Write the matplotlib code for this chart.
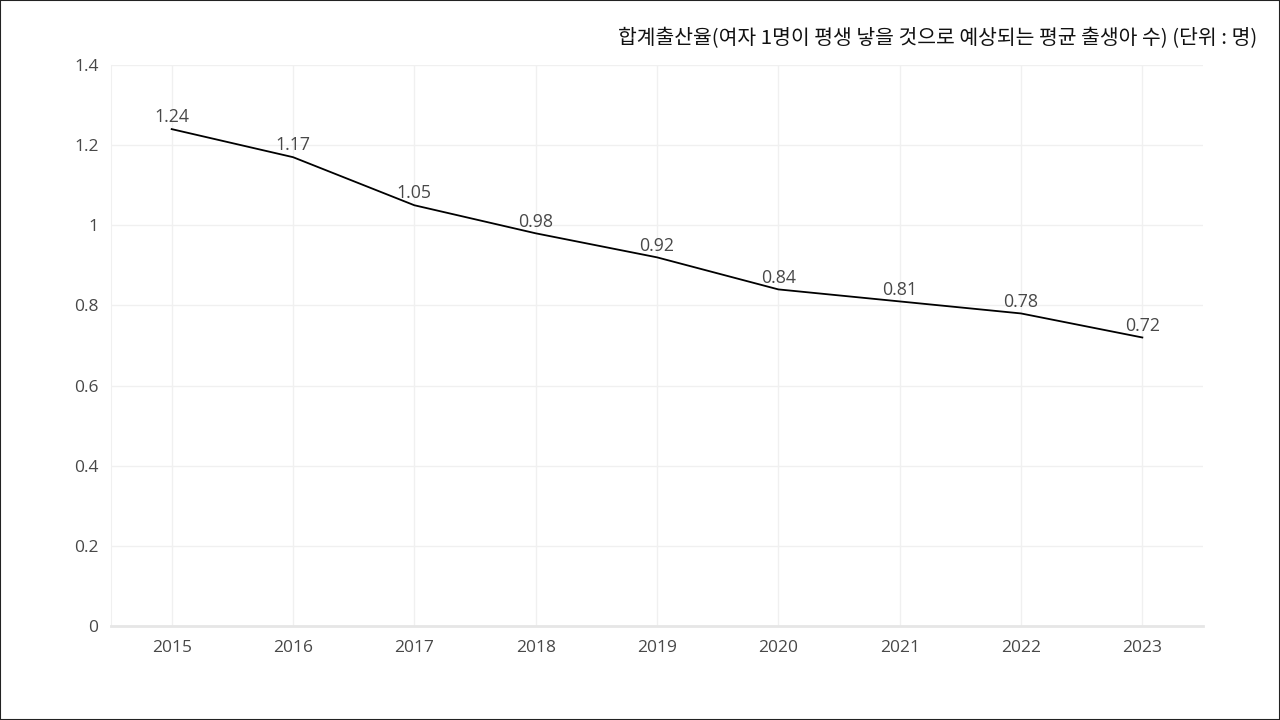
import matplotlib
matplotlib.use("Agg")
import matplotlib.pyplot as plt

plt.rcParams['font.family'] = ['Noto Sans CJK KR', 'DejaVu Sans']

years = ['2015', '2016', '2017', '2018', '2019', '2020', '2021', '2022', '2023']
tfr = [1.24, 1.17, 1.05, 0.98, 0.92, 0.84, 0.81, 0.78, 0.72]
yticks = [0, 0.2, 0.4, 0.6, 0.8, 1.0, 1.2, 1.4]
ytick_labels = ['0', '0.2', '0.4', '0.6', '0.8', '1', '1.2', '1.4']
title = '합계출산율(여자 1명이 평생 낳을 것으로 예상되는 평균 출생아 수) (단위 : 명)'

grey_txt = '#484848'
grid_c = '#f0f0f0'
num_font = ['Open Sans', 'DejaVu Sans']

fig = plt.figure(figsize=(12.8, 7.2), dpi=100)
ax = fig.add_axes([111/1280, 1 - 626/720, (1203-111)/1280, (626-65)/720])

x = list(range(len(years)))
ax.plot(x, tfr, color='black', linewidth=1.3, zorder=3)
for xi, v in zip(x, tfr):
    ax.annotate(f'{v:.2f}', (xi, v), xytext=(0, 2), textcoords='offset points',
                ha='center', va='bottom', fontsize=12.8, color=grey_txt,
                family=num_font)

ax.set_xlim(-0.5, len(years) - 0.5)
ax.set_ylim(0, 1.4)
ax.set_xticks(x)
ax.set_xticklabels(years, family=num_font)
ax.set_yticks(yticks)
ax.set_yticklabels(ytick_labels, family=num_font)
ax.tick_params(length=0, labelsize=12.5, colors=grey_txt, pad=10)
ax.tick_params(axis='y', pad=9)
ax.grid(True, color=grid_c, linewidth=1)
ax.set_axisbelow(True)
for s in ['top', 'right']:
    ax.spines[s].set_visible(False)
ax.spines['left'].set_color(grid_c)
ax.spines['bottom'].set_color('#e6e6e6')
ax.spines['bottom'].set_linewidth(2)

fig.text(1257/1280, 1 - 39/720, title, ha='right', va='center', fontsize=14.7, color='#111111')

# border around the figure
fig.patches.append(plt.Rectangle((0, 0), 1, 1, transform=fig.transFigure,
                                 fill=False, edgecolor='#222222', linewidth=1.5))

fig.savefig('out.png', dpi=100)
